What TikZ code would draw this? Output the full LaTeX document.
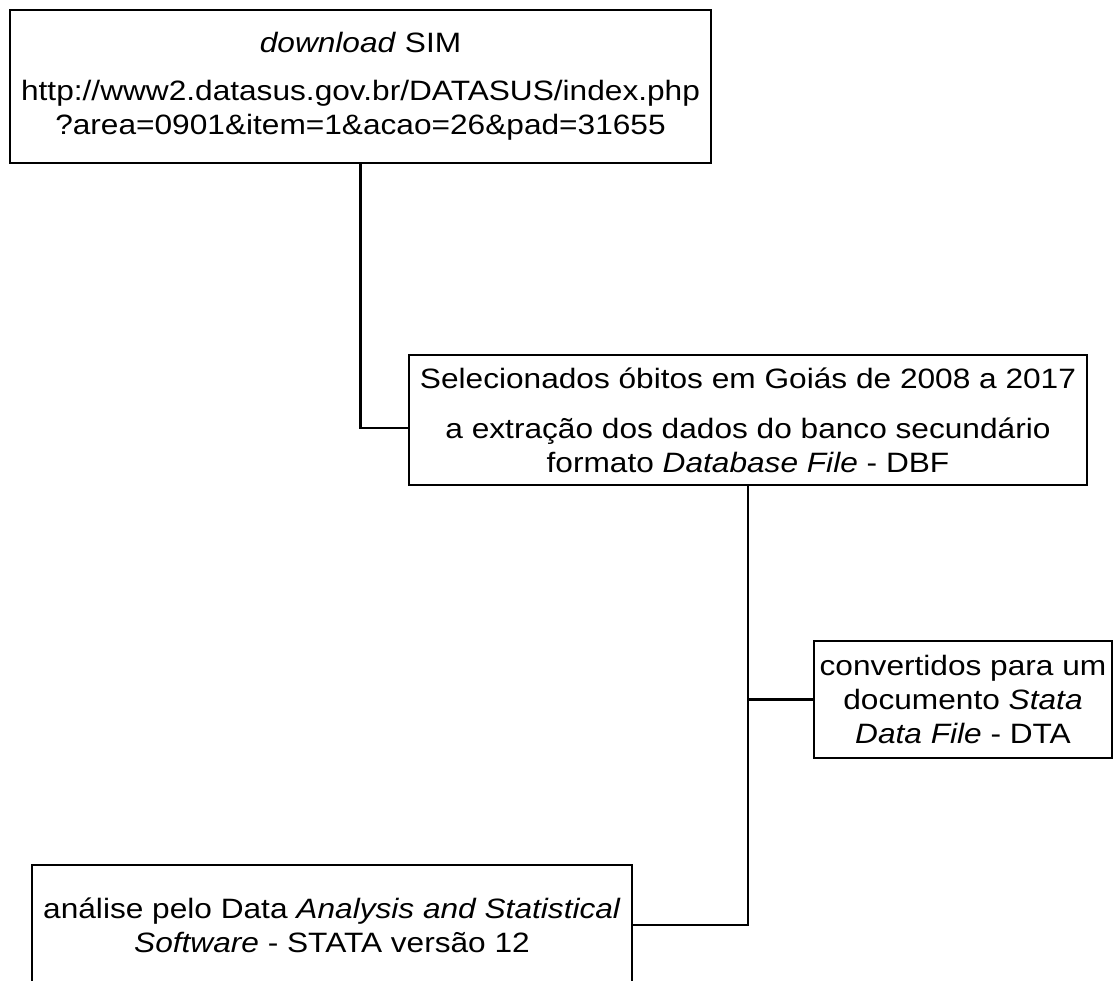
\documentclass[tikz,border=0pt]{standalone}
\usepackage{fontspec}
\setmainfont[FakeStretch=1.13]{Liberation Sans}
\usetikzlibrary{positioning}
\tikzset{
   box/.style={draw,rectangle,line width=2.5pt,inner sep=0pt,align=center,
      font=\fontsize{28}{34}\selectfont},
   link/.style={line width=2.5pt},
}

\begin{document}
\begin{tikzpicture}[x=1pt,y=-1pt]

        \fill[white] (0,0) rectangle (1120,981);
        \useasboundingbox (0,0) rectangle (1120,981);
        \clip (0,0) rectangle (1120,981);

        \node[box,minimum width=701pt,minimum height=153pt] (sim) at (360.5,86.5)
          {\textit{download} SIM\\[14pt]
           http://www2.datasus.gov.br/DATASUS/index.php\\
           ?area=0901\&item=1\&acao=26\&pad=31655};

        \node[box,minimum width=678pt,minimum height=130pt] (sel) at (748,420)
          {Selecionados óbitos em Goiás de 2008 a 2017\\[16pt]
           a extração dos dados do banco secundário\\
           formato \textit{Database File} - DBF};

        \node[box,minimum width=298pt,minimum height=117pt] (dta) at (963,699.5)
          {convertidos para um\\ documento \textit{Stata}\\ \textit{Data File} - DTA};

        \node[box,minimum width=600pt,minimum height=120pt] (stata) at (332,925)
          {análise pelo Data \textit{Analysis and Statistical}\\
           \textit{Software} - STATA versão 12};

        \draw[link] (sim.south) |- ([yshift=-8pt]sel.west);
        \draw[link] (sel.south) |- (stata.east);
        \draw[link] (dta.west) -- (dta.west -| sel.south);

      \end{tikzpicture}
\end{document}
